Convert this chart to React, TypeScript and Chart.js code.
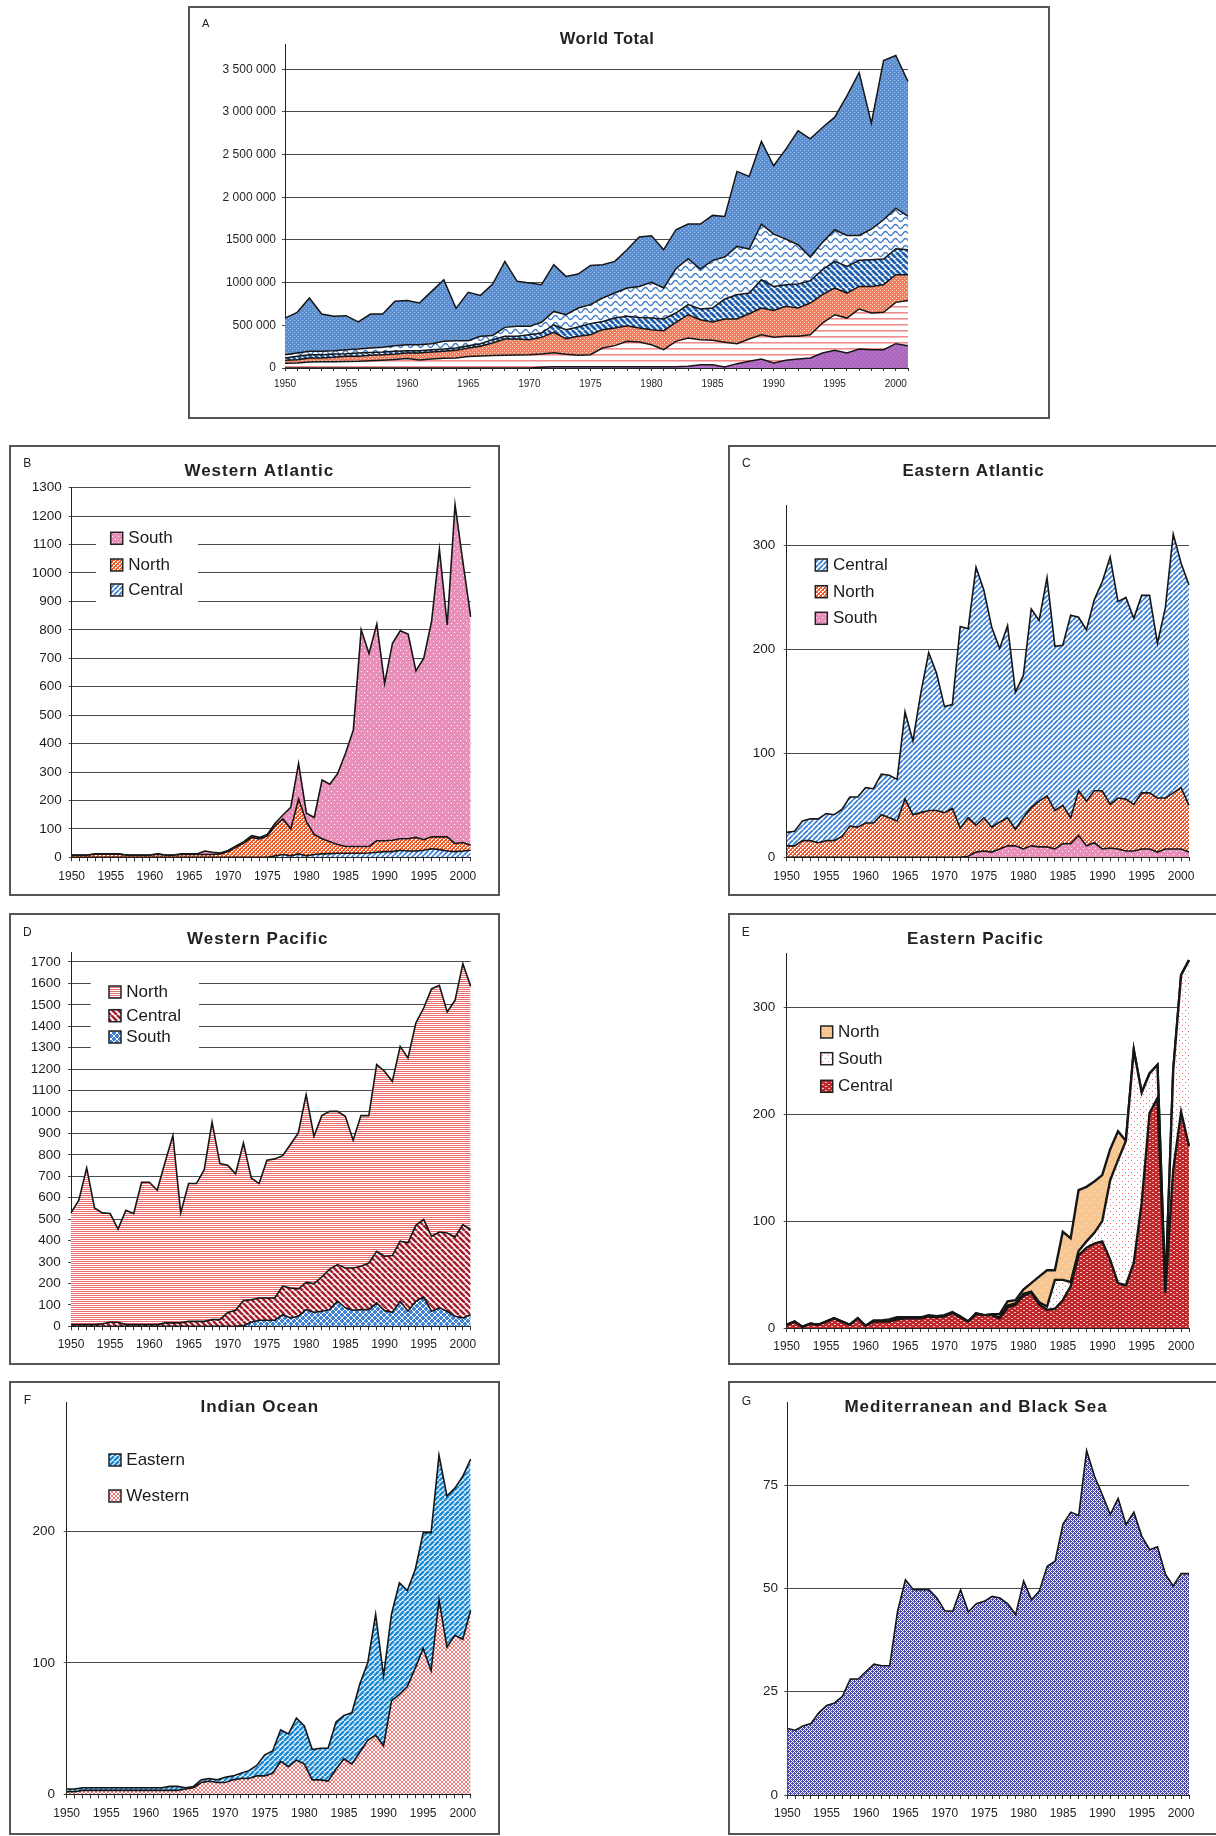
import React, { useEffect, useRef } from 'react';
import { Chart, registerables } from 'chart.js';

Chart.register(...registerables);

const FONT = '"Liberation Sans", Arial, Helvetica, sans-serif';

const years = [
  '1950','1951','1952','1953','1954','1955','1956','1957','1958','1959',
  '1960','1961','1962','1963','1964','1965','1966','1967','1968','1969',
  '1970','1971','1972','1973','1974','1975','1976','1977','1978','1979',
  '1980','1981','1982','1983','1984','1985','1986','1987','1988','1989',
  '1990','1991','1992','1993','1994','1995','1996','1997','1998','1999',
  '2000','2001',
];

// ---- A: World Total (tonnes), stacked layers bottom -> top ----
const worldLayer1 = [0,0,0,0,0,0,0,0,0,0, 0,0,0,0,0,0,0,0,0,0, 0,10e3,15e3,15e3,15e3,15e3,15e3,15e3,15e3,15e3, 15e3,15e3,15e3,20e3,39e3,39e3,12e3,51e3,78e3,105e3, 59e3,90e3,105e3,117e3,176e3,207e3,176e3,222e3,215e3,215e3, 285e3,262e3];
const worldLayer2 = [55e3,60e3,70e3,72e3,74e3,76e3,78e3,85e3,92e3,100e3, 110e3,95e3,105e3,115e3,118e3,135e3,140e3,145e3,150e3,152e3, 155e3,155e3,165e3,145e3,135e3,141e3,219e3,247e3,297e3,289e3, 258e3,200e3,297e3,331e3,293e3,285e3,289e3,234e3,262e3,285e3, 300e3,281e3,266e3,273e3,351e3,417e3,409e3,469e3,429e3,437e3, 484e3,530e3];
const worldLayer3 = [35e3,38e3,47e3,45e3,51e3,61e3,59e3,63e3,64e3,64e3, 66e3,81e3,82e3,80e3,89e3,99e3,114e3,148e3,190e3,188e3, 177e3,194e3,238e3,183e3,221e3,234e3,215e3,206e3,184e3,164e3, 176e3,222e3,223e3,273e3,234e3,215e3,273e3,289e3,296e3,313e3, 316e3,351e3,332e3,371e3,332e3,313e3,293e3,265e3,312e3,324e3, 324e3,301e3];
const worldLayer4 = [27e3,39e3,39e3,39e3,39e3,31e3,39e3,35e3,31e3,31e3, 27e3,27e3,28e3,27e3,27e3,26e3,31e3,39e3,31e3,31e3, 58e3,51e3,89e3,106e3,109e3,130e3,97e3,117e3,109e3,125e3, 136e3,137e3,109e3,118e3,125e3,164e3,234e3,285e3,242e3,331e3, 281e3,254e3,281e3,262e3,292e3,312e3,312e3,305e3,312e3,300e3, 304e3,293e3];
const worldLayer5 = [39e3,39e3,39e3,39e3,39e3,47e3,46e3,51e3,55e3,67e3, 70e3,70e3,70e3,90e3,86e3,60e3,86e3,50e3,105e3,117e3, 98e3,125e3,156e3,175e3,223e3,222e3,274e3,293e3,332e3,363e3, 418e3,363e3,519e3,538e3,468e3,558e3,492e3,566e3,515e3,652e3, 613e3,534e3,460e3,277e3,321e3,371e3,363e3,292e3,360e3,461e3, 476e3,390e3];
const worldLayer6 = [429e3,476e3,625e3,437e3,402e3,398e3,317e3,398e3,390e3,519e3, 519e3,488e3,613e3,722e3,379e3,566e3,480e3,602e3,773e3,527e3, 507e3,441e3,547e3,449e3,398e3,460e3,390e3,371e3,449e3,578e3, 547e3,449e3,457e3,406e3,527e3,527e3,476e3,878e3,851e3,968e3, 800e3,1054e3,1335e3,1385e3,1346e3,1319e3,1636e3,1909e3,1241e3,1865e3, 1788e3,1581e3];
const worldTickLabels = ['0', '500 000', '1000 000', '1500 000', '2 000 000', '2 500 000', '3 000 000', '3 500 000'];

// ---- B: Western Atlantic ----
const waCentral = [0,0,0,0,0,0,0,0,0,0, 0,0,0,0,0,0,0,0,0,0, 0,0,0,0,0,0,5,10,5,12, 5,10,12,13,14,14,14,14,15,18, 20,20,25,22,22,25,30,27,22,20, 22,25];
const waNorth = [7,7,7,11,11,11,11,7,7,7, 7,11,7,7,10,10,10,10,10,12, 20,35,50,70,65,75,105,125,95,193, 120,70,53,42,31,24,24,24,23,40, 38,40,40,43,48,37,42,45,50,28, 30,17];
const waSouth = [1,1,1,1,1,1,1,1,1,1, 1,1,1,1,2,2,2,12,8,3, 4,5,5,6,5,5,10,14,76,125, 30,60,207,202,250,328,410,762,679,762, 554,693,732,720,586,638,758,1011,745,1192, 988,804];

// ---- C: Eastern Atlantic ----
const eaSouth = [0,0,0,0,0,0,0,0,0,0, 0,0,0,0,0,0,0,0,0,0, 0,0,0,1,5,6,5,8,11,11, 8,11,10,10,8,13,13,21,11,14, 8,9,8,6,6,8,8,5,8,8, 8,5];
const eaNorth = [11,11,16,16,14,16,16,20,30,29, 33,33,41,38,35,56,41,43,45,45, 43,47,28,37,26,32,24,26,27,16, 30,37,44,49,37,37,25,43,43,50, 56,42,49,50,45,54,54,52,49,54, 59,45];
const eaCentral = [13,14,19,21,23,26,25,26,28,29, 34,33,39,41,40,84,71,115,152,132, 102,100,194,182,248,219,192,167,185,132, 137,191,174,210,158,154,195,167,165,184, 201,238,189,194,179,190,190,149,183,249, 216,212];

// ---- D: Western Pacific ----
const wpSouth = [0,0,0,0,0,0,0,0,0,0, 0,0,0,0,0,0,0,0,0,0, 0,0,3,19,28,28,28,54,39,47, 78,65,70,78,117,86,75,78,78,109, 73,65,117,70,117,137,70,86,70,47, 39,54];
const wpCentral = [8,8,8,8,12,19,19,8,8,8, 8,8,16,16,16,23,23,23,31,31, 65,75,117,105,104,104,104,133,140,127, 127,134,160,189,171,186,197,202,217,241, 254,265,280,319,354,361,350,354,365,370, 435,397];
const wpNorth = [521,580,731,544,517,507,435,533,518,664, 664,627,749,874,513,643,643,708,922,728, 686,636,735,568,534,643,649,609,669,728, 876,688,753,736,715,708,596,703,688,871, 863,813,909,863,944,987,1154,1151,1032,1104, 1218,1135];

// ---- E: Eastern Pacific ----
const epCentral = [3,6,1,4,3,6,9,6,3,9, 2,6,6,6,8,9,9,9,11,10, 11,14,10,6,13,12,12,9,19,22, 30,33,22,17,18,26,39,68,75,79, 81,64,42,40,61,117,201,215,33,148, 202,170];
const epSouth = [0,0,0,0,0,0,0,0,0,0, 0,0,0,0,0,0,0,0,0,0, 0,0,0,0,0,0,0,1,2,1, 2,1,2,3,27,19,4,4,6,10, 19,74,115,135,199,103,37,31,0,93, 128,174];
const epNorth = [0,0,0,0,0,0,0,0,0,0, 0,1,1,2,2,1,1,1,1,1, 1,1,1,0,1,0,1,3,4,3, 4,8,24,34,9,45,41,57,51,48, 43,29,27,0,0,0,0,0,0,0, 0,0];

// ---- F: Indian Ocean ----
const ioWestern = [2,2,3,3,3,3,3,3,3,3, 3,3,3,3,3,4,5,9,10,9, 9,11,12,12,14,14,16,25,21,26, 23,11,11,10,19,27,23,32,41,45, 37,71,76,82,96,111,94,148,112,121, 118,140];
const ioEastern = [2,2,2,2,2,2,2,2,2,2, 2,2,2,3,3,1,1,2,2,2, 4,3,4,6,8,16,17,24,25,32, 29,23,24,25,36,33,39,52,59,92, 53,66,85,73,75,88,105,110,115,112, 124,115];

// ---- G: Mediterranean and Black Sea ----
const medBlack = [16.1,15.7,16.7,17.3,19.9,21.7,22.3,23.9,28.1,28.1, 29.9,31.7,31.3,31.3,44.5,52.1,49.7,49.7,49.7,47.7, 44.6,44.5,49.7,44.3,46.3,46.9,48.1,47.7,46.3,43.7, 51.8,47.3,49.4,55.4,56.6,65.6,68.5,67.7,83.4,77.2, 72.7,67.9,71.8,65.5,68.5,62.7,59.4,60.1,53.5,50.6, 53.6,53.6];

type Series = { label: string; data: number[]; pat: string };
type Spec = {
  key: string; L: number; T: number; W: number; H: number; noRight?: boolean;
  area: { l: number; r: number; t: number; b: number };
  max: number; step: number; yLabels?: string[];
  yFont: number; xFont: number; yPad: number; xPad: number; xTick: number;
  title: string; titleX: number; titleY: number; titleSize: number; titleLS: number;
  letter: string; letterX: number; letterY: number; letterSize: number;
  lineWidth: number;
  series: Series[];
  legend?: { boxX: number; textX: number; ys: number[]; items: { label: string; pat: string }[]; bg?: [number, number, number, number] };
};

const specs: Spec[] = [
  {
    key: 'A', L: 188, T: 6, W: 862, H: 413,
    area: { l: 97, r: 720, t: 38.5, b: 362 },
    max: 3790000, step: 500000, yLabels: worldTickLabels,
    yFont: 12, xFont: 10, yPad: 6, xPad: 7, xTick: 3,
    title: 'World Total', titleX: 419, titleY: 33.3, titleSize: 16.5, titleLS: 0.5,
    letter: 'A', letterX: 17.6, letterY: 18.3, letterSize: 11,
    lineWidth: 1.5,
    series: [
      { label: 'Layer 1', data: worldLayer1, pat: 'aPurple' },
      { label: 'Layer 2', data: worldLayer2, pat: 'aPinkLines' },
      { label: 'Layer 3', data: worldLayer3, pat: 'aSalmon' },
      { label: 'Layer 4', data: worldLayer4, pat: 'aBlueDiag' },
      { label: 'Layer 5', data: worldLayer5, pat: 'aWave' },
      { label: 'Layer 6', data: worldLayer6, pat: 'aBlueDots' },
    ],
  },
  {
    key: 'B', L: 9, T: 445, W: 491, H: 451,
    area: { l: 62.7, r: 461.7, t: 42.7, b: 412.3 },
    max: 1300, step: 100,
    yFont: 13.5, xFont: 12, yPad: 7, xPad: 8, xTick: 4,
    title: 'Western Atlantic', titleX: 250.3, titleY: 26, titleSize: 17, titleLS: 1,
    letter: 'B', letterX: 18.3, letterY: 18.3, letterSize: 12,
    lineWidth: 1.6,
    series: [
      { label: 'Central', data: waCentral, pat: 'blueStripes' },
      { label: 'North', data: waNorth, pat: 'orangeCheck' },
      { label: 'South', data: waSouth, pat: 'pinkDots' },
    ],
    legend: {
      boxX: 101.7, textX: 119.3, ys: [93.3, 120, 145],
      items: [{ label: 'South', pat: 'pinkDots' }, { label: 'North', pat: 'orangeCheck' }, { label: 'Central', pat: 'blueStripes' }],
      bg: [87, 75, 102, 90],
    },
  },
  {
    key: 'C', L: 728, T: 445, W: 488, H: 451, noRight: true,
    area: { l: 58.7, r: 461, t: 60, b: 412.3 },
    max: 339, step: 100,
    yFont: 13.5, xFont: 12, yPad: 8.4, xPad: 8, xTick: 4,
    title: 'Eastern Atlantic', titleX: 245.5, titleY: 26, titleSize: 17, titleLS: 0.8,
    letter: 'C', letterX: 18.3, letterY: 18.3, letterSize: 12,
    lineWidth: 1.6,
    series: [
      { label: 'South', data: eaSouth, pat: 'pinkDots' },
      { label: 'North', data: eaNorth, pat: 'orangeCheck' },
      { label: 'Central', data: eaCentral, pat: 'blueStripes' },
    ],
    legend: {
      boxX: 87.3, textX: 105, ys: [120, 146.7, 173.3],
      items: [{ label: 'Central', pat: 'blueStripes' }, { label: 'North', pat: 'orangeCheck' }, { label: 'South', pat: 'pinkDots' }],
    },
  },
  {
    key: 'D', L: 9, T: 913, W: 491, H: 452,
    area: { l: 62, r: 461.7, t: 39.3, b: 413.3 },
    max: 1745, step: 100,
    yFont: 13.5, xFont: 12, yPad: 7.3, xPad: 7.2, xTick: 4,
    title: 'Western Pacific', titleX: 248.7, titleY: 26, titleSize: 17, titleLS: 1,
    letter: 'D', letterX: 18.3, letterY: 20, letterSize: 12,
    lineWidth: 1.6,
    series: [
      { label: 'South', data: wpSouth, pat: 'dSouthCross' },
      { label: 'Central', data: wpCentral, pat: 'dCentralDiag' },
      { label: 'North', data: wpNorth, pat: 'dNorthLines' },
    ],
    legend: {
      boxX: 100, textX: 117.3, ys: [79, 102.7, 124],
      items: [{ label: 'North', pat: 'dNorthLines' }, { label: 'Central', pat: 'dCentralDiag' }, { label: 'South', pat: 'dSouthCross' }],
      bg: [81.7, 62, 108.3, 83],
    },
  },
  {
    key: 'E', L: 728, T: 913, W: 488, H: 452, noRight: true,
    area: { l: 58.7, r: 461, t: 40.7, b: 415 },
    max: 350, step: 100,
    yFont: 13.5, xFont: 12, yPad: 8.4, xPad: 7.1, xTick: 4,
    title: 'Eastern Pacific', titleX: 247.5, titleY: 26, titleSize: 17, titleLS: 1,
    letter: 'E', letterX: 17.7, letterY: 20, letterSize: 12,
    lineWidth: 2.4,
    series: [
      { label: 'Central', data: epCentral, pat: 'eRed' },
      { label: 'South', data: epSouth, pat: 'eWhiteDots' },
      { label: 'North', data: epNorth, pat: 'ePeach' },
    ],
    legend: {
      boxX: 92.7, textX: 110, ys: [119, 145.7, 173.3],
      items: [{ label: 'North', pat: 'ePeach' }, { label: 'South', pat: 'eWhiteDots' }, { label: 'Central', pat: 'eRed' }],
    },
  },
  {
    key: 'F', L: 9, T: 1381, W: 491, H: 454,
    area: { l: 57.7, r: 461.7, t: 21.7, b: 413.3 },
    max: 298, step: 100,
    yFont: 13.5, xFont: 12, yPad: 8.7, xPad: 7.8, xTick: 4,
    title: 'Indian Ocean', titleX: 250.8, titleY: 26.7, titleSize: 17, titleLS: 1,
    letter: 'F', letterX: 18.3, letterY: 20, letterSize: 12,
    lineWidth: 1.6,
    series: [
      { label: 'Western', data: ioWestern, pat: 'fPink' },
      { label: 'Eastern', data: ioEastern, pat: 'fBlue' },
    ],
    legend: {
      boxX: 100, textX: 117.3, ys: [79, 115],
      items: [{ label: 'Eastern', pat: 'fBlue' }, { label: 'Western', pat: 'fPink' }],
    },
  },
  {
    key: 'G', L: 728, T: 1381, W: 488, H: 454, noRight: true,
    area: { l: 59.3, r: 461, t: 21.7, b: 414 },
    max: 95, step: 25,
    yFont: 13.5, xFont: 12, yPad: 6.3, xPad: 7.1, xTick: 4,
    title: 'Mediterranean and Black Sea', titleX: 248, titleY: 26.7, titleSize: 17, titleLS: 1,
    letter: 'G', letterX: 18.3, letterY: 20.7, letterSize: 12,
    lineWidth: 1.6,
    series: [{ label: 'Mediterranean and Black Sea', data: medBlack, pat: 'gNavy' }],
  },
];

function makePatterns(): Record<string, CanvasPattern> {
  const tile = (w: number, h: number, bg: string | null, draw: (g: CanvasRenderingContext2D) => void) => {
    const c = document.createElement('canvas');
    c.width = w; c.height = h;
    const g = c.getContext('2d')!;
    if (bg) { g.fillStyle = bg; g.fillRect(0, 0, w, h); }
    draw(g);
    return g.createPattern(c, 'repeat')!;
  };
  const dots = (g: CanvasRenderingContext2D, color: string, pts: number[][]) => {
    g.fillStyle = color;
    pts.forEach(([x, y]) => g.fillRect(x, y, 1, 1));
  };
  const diag = (size: number, bg: string, fg: string, lw: number, dir: string) => tile(size, size, bg, (g) => {
    g.strokeStyle = fg; g.lineWidth = lw; g.beginPath();
    for (let k = -1; k <= 1; k++) {
      if (dir === '/') { g.moveTo(k * size, size); g.lineTo(k * size + size, 0); }
      else { g.moveTo(k * size, 0); g.lineTo(k * size + size, size); }
    }
    g.stroke();
  });
  const cross = (size: number, bg: string, fg: string, lw: number) => tile(size, size, bg, (g) => {
    g.strokeStyle = fg; g.lineWidth = lw; g.beginPath();
    for (let k = -1; k <= 1; k++) {
      g.moveTo(k * size, size); g.lineTo(k * size + size, 0);
      g.moveTo(k * size, 0); g.lineTo(k * size + size, size);
    }
    g.stroke();
  });
  const navyPts: number[][] = [];
  for (let x = 0; x < 4; x++) for (let y = 0; y < 4; y++) if ((x + y) % 4 === 0 || (x - y + 4) % 4 === 0) navyPts.push([x, y]);
  return {
    aPurple: tile(4, 4, '#b46fc4', (g) => dots(g, '#9151a6', [[0, 0], [2, 2]])),
    aPinkLines: tile(2, 6, '#ffffff', (g) => { g.fillStyle = '#f28a8a'; g.fillRect(0, 0, 2, 1); g.fillStyle = '#f7bcbc'; g.fillRect(0, 1, 2, 1); }),
    aSalmon: tile(4, 4, '#f2805f', (g) => dots(g, '#fde0d6', [[0, 0], [2, 2]])),
    aBlueDiag: diag(6, '#ffffff', '#1f5fae', 2.8, '\\'),
    aWave: tile(10, 7, '#ffffff', (g) => {
      g.strokeStyle = '#3d7cc8'; g.lineWidth = 1.4; g.beginPath();
      for (let i = 0; i <= 20; i++) {
        const x = i * 0.5;
        const y = 3.5 + 2 * Math.sin((x / 10) * Math.PI * 2);
        if (i === 0) g.moveTo(x, y); else g.lineTo(x, y);
      }
      g.stroke();
    }),
    aBlueDots: tile(4, 4, '#5b8fd4', (g) => dots(g, '#a0c0ea', [[0, 0], [2, 2]])),
    pinkDots: tile(6, 6, '#e890b9', (g) => dots(g, '#ffffff', [[1, 1], [4, 4]])),
    orangeCheck: tile(4, 4, '#f05a28', (g) => dots(g, '#ffffff', [[0, 0], [1, 0], [0, 1], [2, 2], [3, 2], [2, 3]])),
    blueStripes: diag(5, '#ffffff', '#3b80d4', 1.8, '/'),
    dNorthLines: tile(2, 2, '#ffffff', (g) => { g.fillStyle = '#ec6f6f'; g.fillRect(0, 0, 2, 1); }),
    dCentralDiag: diag(6, '#ffffff', '#a8202f', 2.6, '\\'),
    dSouthCross: cross(6, '#3f84d6', '#ffffff', 1),
    ePeach: tile(8, 8, '#f8c690', (g) => dots(g, '#fdeedd', [[2, 2], [6, 6]])),
    eWhiteDots: tile(6, 6, '#ffffff', (g) => dots(g, '#ef6868', [[1, 1], [4, 4]])),
    eRed: tile(6, 4, '#c0282c', (g) => { g.fillStyle = '#f1c4c4'; g.fillRect(1, 1, 2, 1); g.fillRect(4, 3, 2, 1); }),
    fBlue: diag(5, '#ffffff', '#1c8bd6', 2.6, '/'),
    fPink: tile(4, 4, '#ffffff', (g) => { g.fillStyle = '#f07a7a'; g.fillRect(0, 0, 2, 2); g.fillRect(2, 2, 2, 2); }),
    gNavy: tile(4, 4, '#4747b2', (g) => dots(g, '#ffffff', navyPts)),
  };
}

function buildChart(canvas: HTMLCanvasElement, s: Spec) {
  const P = makePatterns();
  const decor = {
    id: 'decor' + s.key,
    afterDraw(chart: any) {
      const ctx: CanvasRenderingContext2D = chart.ctx;
      ctx.save();
      ctx.textBaseline = 'middle';
      ctx.fillStyle = '#222';
      ctx.textAlign = 'center';
      ctx.font = `${s.letterSize}px ${FONT}`;
      ctx.fillText(s.letter, s.letterX, s.letterY);
      ctx.font = `bold ${s.titleSize}px ${FONT}`;
      (ctx as any).letterSpacing = `${s.titleLS}px`;
      ctx.fillText(s.title, s.titleX, s.titleY);
      (ctx as any).letterSpacing = '0px';
      if (s.legend) {
        const lg = s.legend;
        if (lg.bg) { ctx.fillStyle = '#ffffff'; ctx.fillRect(lg.bg[0], lg.bg[1], lg.bg[2], lg.bg[3]); }
        lg.items.forEach((it, i) => {
          const y = lg.ys[i];
          ctx.fillStyle = P[it.pat];
          ctx.fillRect(lg.boxX, y - 6, 12, 12);
          ctx.strokeStyle = '#222'; ctx.lineWidth = 1.5;
          ctx.strokeRect(lg.boxX, y - 6, 12, 12);
          ctx.fillStyle = '#1a1a1a';
          ctx.font = `17px ${FONT}`;
          ctx.textAlign = 'left';
          ctx.fillText(it.label, lg.textX, y + 0.5);
        });
      }
      ctx.restore();
    },
  };
  return new Chart(canvas, {
    type: 'line',
    data: {
      labels: years,
      datasets: s.series.map((d, i) => ({
        label: d.label,
        data: d.data,
        fill: i === 0 ? 'origin' : '-1',
        backgroundColor: P[d.pat],
        borderColor: '#161616',
        borderWidth: s.lineWidth,
        pointRadius: 0,
        pointHoverRadius: 0,
        tension: 0,
      })),
    },
    options: {
      animation: false,
      responsive: false,
      maintainAspectRatio: false,
      events: [],
      layout: { padding: { left: 0, right: s.W - s.area.r, top: s.area.t, bottom: 0 } },
      plugins: { legend: { display: false }, tooltip: { enabled: false }, title: { display: false } },
      scales: {
        x: {
          type: 'category',
          offset: false,
          afterFit: (sc: any) => { sc.height = s.H - s.area.b; },
          grid: { display: true, drawOnChartArea: false, drawTicks: true, tickLength: s.xTick, color: '#333', lineWidth: 1 },
          border: { display: true, color: '#222', width: 1 },
          ticks: {
            autoSkip: false, maxRotation: 0, minRotation: 0, padding: s.xPad, color: '#1e1e1e',
            font: { family: FONT, size: s.xFont },
            callback: (_v: any, i: number) => {
              const y = Number(years[i]);
              return y % 5 === 0 && y <= 2000 ? years[i] : '';
            },
          },
        },
        y: {
          stacked: true,
          min: 0,
          max: s.max,
          afterBuildTicks: (sc: any) => {
            const t: { value: number }[] = [];
            for (let k = 0; k * s.step <= s.max + 1e-9; k++) t.push({ value: k * s.step });
            sc.ticks = t;
          },
          afterFit: (sc: any) => { sc.width = s.area.l; },
          grid: { color: '#4a4a4a', lineWidth: 1, drawTicks: true, tickLength: 3 },
          border: { display: true, color: '#222', width: 1 },
          ticks: {
            padding: s.yPad, color: '#1e1e1e',
            font: { family: FONT, size: s.yFont },
            callback: (v: any) => (s.yLabels ? s.yLabels[Math.round(Number(v) / s.step)] : String(v)),
          },
        },
      },
    } as any,
    plugins: [decor],
  });
}

function Panel({ spec }: { spec: Spec }) {
  const ref = useRef<HTMLCanvasElement>(null);
  useEffect(() => {
    const chart = buildChart(ref.current!, spec);
    return () => chart.destroy();
  }, [spec]);
  return (
    <div style={{ position: 'absolute', left: spec.L, top: spec.T, width: spec.W, height: spec.H, background: '#fff' }}>
      <canvas ref={ref} width={spec.W} height={spec.H} style={{ position: 'absolute', left: 0, top: 0, width: spec.W, height: spec.H, display: 'block' }} />
      <div
        style={{
          position: 'absolute', left: 0, top: 0, width: spec.W, height: spec.H, boxSizing: 'border-box',
          border: '2px solid #555', borderRight: spec.noRight ? 'none' : '2px solid #555', pointerEvents: 'none',
        }}
      />
    </div>
  );
}

export default function App() {
  useEffect(() => {
    document.body.style.overflow = 'hidden';
    document.documentElement.style.overflow = 'hidden';
  }, []);
  return (
    <div>
      {specs.map((s) => (
        <Panel key={s.key} spec={s} />
      ))}
    </div>
  );
}
